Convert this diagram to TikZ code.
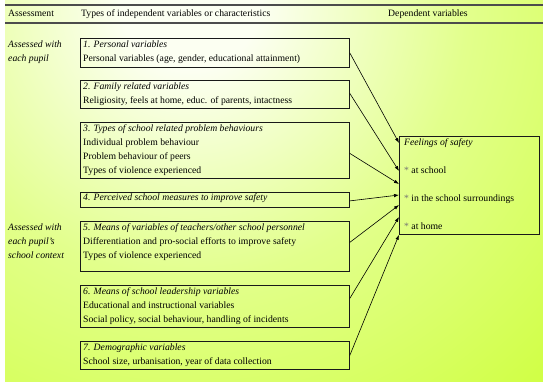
\documentclass[tikz,border=0pt]{standalone}
\usepackage{fontspec}
\setmainfont{Liberation Serif}
\usetikzlibrary{arrows.meta,calc}
\definecolor{bgA}{RGB}{252,255,242}
\definecolor{bgM}{RGB}{226,255,140}
\definecolor{bgB}{RGB}{204,255,51}
\pgfdeclareradialshading{bgshade}{\pgfpoint{0bp}{0bp}}{color(0bp)=(bgA); color(3bp)=(bgA); color(12bp)=(bgM); color(25bp)=(bgB); color(50bp)=(bgB)}
\tikzset{
  box/.style={draw=black!90, line width=0.8pt, anchor=north west, inner sep=0pt},
  txt/.style={anchor=north west, inner sep=0pt, align=left, font=\fontsize{9.7pt}{14pt}\selectfont},
  hdr/.style={anchor=base west, inner sep=0pt, font=\fontsize{9.7pt}{14pt}\selectfont},
  rulel/.style={draw=black!70, line width=1.1pt},
  arr/.style={draw=black, line width=0.6pt, -{Latex[length=5pt,width=3.5pt]}}
}
\begin{document}
\begin{tikzpicture}[x=1pt,y=-1pt]
\useasboundingbox (0,0) rectangle (543,382);
\begin{scope}
  \clip (5,0) rectangle (543,382);
  \shade[shading=bgshade] (190,0) circle[radius=580pt];
\end{scope}
% header
\draw[rulel] (5,5) -- (543,5);
\draw[rulel] (5,23) -- (543,23);
\node[hdr] (h1) at (8,17) {Assessment};
\node[hdr] (h2) at (81,17) {Types of independent variables or characteristics};
\node[hdr] (h3) at (388,17) {Dependent variables};
% left labels
\node[txt] (l1) at (8,40.5) {\textit{Assessed with}\\\textit{each pupil}};
\node[txt] (l2) at (8,223.5) {\textit{Assessed with}\\\textit{each pupil’s}\\\textit{school context}};
% boxes
\node[box, minimum width=269pt, minimum height=29pt] (b1) at (80,38) {};
\node[box, minimum width=269pt, minimum height=28pt] (b2) at (80,80) {};
\node[box, minimum width=269pt, minimum height=56pt] (b3) at (80,122) {};
\node[box, minimum width=269pt, minimum height=15pt] (b4) at (80,192) {};
\node[box, minimum width=269pt, minimum height=50pt] (b5) at (80,221) {};
\node[box, minimum width=269pt, minimum height=42pt] (b6) at (80,285) {};
\node[box, minimum width=269pt, minimum height=28pt] (b7) at (80,341) {};
\node[box, minimum width=140pt, minimum height=98pt] (dep) at (399,136) {};
% box texts
\node[txt] (t1) at (83,40.5) {\textit{1. Personal variables}\\Personal variables (age, gender, educational attainment)};
\node[txt] (t2) at (83,82.5) {\textit{2. Family related variables}\\Religiosity, feels at home, educ. of parents, intactness};
\node[txt] (t3) at (83,124.5) {\textit{3. Types of school related problem behaviours}\\Individual problem behaviour\\Problem behaviour of peers\\Types of violence experienced};
\node[txt] (t4) at (83,193.5) {\textit{4. Perceived school measures to improve safety}};
\node[txt] (t5) at (83,223.5) {\textit{5. Means of variables of teachers/other school personnel}\\Differentiation and pro-social efforts to improve safety\\Types of violence experienced};
\node[txt] (t6) at (83,287) {\textit{6. Means of school leadership variables}\\Educational and instructional variables\\Social policy, social behaviour, handling of incidents};
\node[txt] (t7) at (83,343.5) {\textit{7. Demographic variables}\\School size, urbanisation, year of data collection};
\node[txt] (td) at (404,138.5) {\textit{Feelings of safety}\\[14pt]{\color{black!55}*} at school\\[14pt]{\color{black!55}*} in the school surroundings\\[14pt]{\color{black!55}*} at home};
% arrows
\draw[arr] (b1.east) -- ($(dep.north west)+(0,7)$);
\draw[arr] ($(b2.east)+(0,-1)$) -- ($(dep.north west)+(0,35)$);
\draw[arr] ($(b3.east)+(0,3)$) -- ($(dep.north west)+(0,48)$);
\draw[arr] ($(b4.east)+(0,1)$) -- ($(dep.north west)+(0,59)$);
\draw[arr] ($(b5.east)+(0,-4)$) -- ($(dep.north west)+(0,69)$);
\draw[arr] ($(b6.east)+(0,-8)$) -- ($(dep.north west)+(0,81)$);
\draw[arr] (b7.east) -- (dep.south west);
\end{tikzpicture}
\end{document}
